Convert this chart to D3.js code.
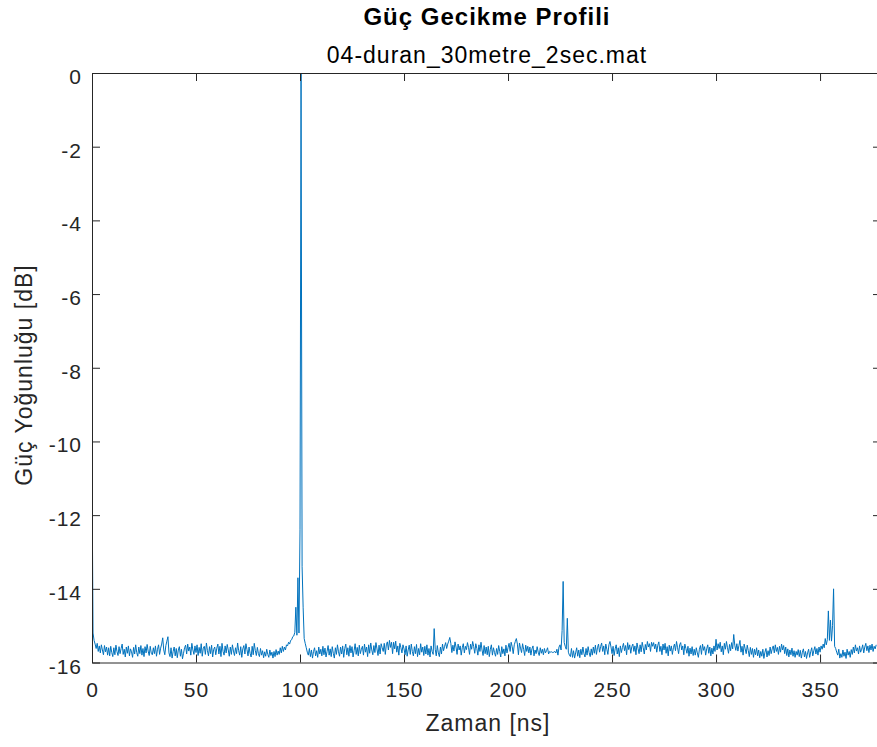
<!DOCTYPE html>
<html>
<head>
<meta charset="utf-8">
<script src="https://cdn.jsdelivr.net/npm/d3@7"></script>
<style>
  body { margin: 0; background: #fff; overflow: hidden; }
  svg { display: block; font-family: "Liberation Sans", Arial, Helvetica, sans-serif; }
  .axis path, .axis line { stroke: #262626; stroke-width: 1; }
  .axis text { fill: #262626; font-size: 21px; letter-spacing: 1px; }
</style>
</head>
<body>
<div id="chart"></div>
<script>
/* DATA */
// power delay profile, one sample every 0.5 ns starting at 0 ns (dB)
const sampleStep = 0.5;
const noiseFloor = [
  -10.70, -15.20, -15.40, -15.50, -15.62, -15.48, -15.70, -15.55, -15.74, -15.52, -15.66, -15.79, -15.54, -15.71, -15.58, -15.80, -15.60, -15.82, -15.56, -15.73,
  -15.84, -15.60, -15.79, -15.53, -15.70, -15.81, -15.57, -15.76, -15.62, -15.50, -15.78, -15.64, -15.85, -15.58, -15.75, -15.55, -15.82, -15.63, -15.71, -15.86,
  -15.59, -15.77, -15.52, -15.73, -15.83, -15.58, -15.76, -15.54, -15.80, -15.62, -15.84, -15.57, -15.74, -15.51, -15.69, -15.81, -15.56, -15.75, -15.79, -15.60,
  -15.76, -15.55, -15.83, -15.64, -15.52, -15.78, -15.61, -15.50, -15.44, -15.66, -15.79, -15.54, -15.42, -15.63, -15.74, -15.84, -15.60, -15.88, -15.70, -15.58,
  -15.82, -15.62, -15.87, -15.66, -15.57, -15.83, -15.64, -15.90, -15.75, -15.60, -15.53, -15.77, -15.50, -15.69, -15.58, -15.80, -15.48, -15.66, -15.78, -15.55,
  -15.73, -15.52, -15.81, -15.59, -15.75, -15.49, -15.83, -15.61, -15.56, -15.78, -15.47, -15.68, -15.82, -15.57, -15.76, -15.53, -15.85, -15.64, -15.58, -15.79,
  -15.61, -15.50, -15.77, -15.56, -15.84, -15.48, -15.70, -15.80, -15.55, -15.74, -15.51, -15.66, -15.83, -15.58, -15.78, -15.52, -15.69, -15.81, -15.60, -15.76,
  -15.47, -15.68, -15.80, -15.57, -15.86, -15.63, -15.54, -15.77, -15.49, -15.65, -15.82, -15.58, -15.75, -15.85, -15.56, -15.79, -15.48, -15.67, -15.81, -15.59,
  -15.76, -15.84, -15.62, -15.80, -15.68, -15.87, -15.71, -15.83, -15.64, -15.78, -15.86, -15.66, -15.81, -15.72, -15.88, -15.70, -15.84, -15.65, -15.80, -15.69,
  -15.78, -15.60, -15.74, -15.56, -15.70, -15.58, -15.66, -15.52, -15.55, -15.45, -15.50, -15.40, -15.38, -15.30, -15.28, -15.18, -15.22, -15.26, -15.30, -15.20,
  -15.20, -15.08, -15.22, -15.28, -15.35, -15.48, -15.60, -15.72, -15.80, -15.62, -15.84, -15.66, -15.88, -15.70, -15.60, -15.82, -15.68, -15.86, -15.58, -15.77,
  -15.64, -15.82, -15.56, -15.79, -15.61, -15.85, -15.70, -15.54, -15.80, -15.63, -15.84, -15.57, -15.75, -15.88, -15.60, -15.78, -15.52, -15.71, -15.83, -15.58,
  -15.77, -15.55, -15.86, -15.62, -15.50, -15.79, -15.60, -15.83, -15.54, -15.74, -15.57, -15.85, -15.68, -15.49, -15.78, -15.59, -15.82, -15.53, -15.76, -15.64,
  -15.56, -15.80, -15.50, -15.72, -15.58, -15.84, -15.52, -15.75, -15.47, -15.66, -15.79, -15.54, -15.73, -15.46, -15.63, -15.81, -15.53, -15.77, -15.49, -15.60,
  -15.70, -15.48, -15.78, -15.52, -15.44, -15.66, -15.40, -15.59, -15.50, -15.76, -15.45, -15.63, -15.42, -15.72, -15.55, -15.80, -15.48, -15.60, -15.74, -15.52,
  -15.63, -15.79, -15.55, -15.83, -15.66, -15.53, -15.78, -15.50, -15.70, -15.82, -15.57, -15.76, -15.51, -15.84, -15.62, -15.79, -15.49, -15.72, -15.58, -15.81,
  -15.56, -15.77, -15.52, -15.80, -15.62, -15.85, -15.55, -15.70, -15.78, -15.60, -15.64, -15.82, -15.54, -15.74, -15.84, -15.58, -15.77, -15.50, -15.68, -15.56,
  -15.46, -15.62, -15.50, -15.42, -15.60, -15.48, -15.73, -15.53, -15.69, -15.44, -15.58, -15.78, -15.50, -15.66, -15.55, -15.80, -15.60, -15.49, -15.74, -15.56,
  -15.65, -15.46, -15.59, -15.78, -15.50, -15.64, -15.43, -15.57, -15.75, -15.49, -15.62, -15.80, -15.52, -15.70, -15.45, -15.66, -15.81, -15.54, -15.76, -15.58,
  -15.79, -15.56, -15.84, -15.64, -15.52, -15.80, -15.60, -15.73, -15.83, -15.62, -15.78, -15.54, -15.70, -15.85, -15.57, -15.76, -15.63, -15.82, -15.53, -15.74,
  -15.60, -15.48, -15.70, -15.45, -15.57, -15.76, -15.52, -15.43, -15.66, -15.50, -15.79, -15.47, -15.61, -15.73, -15.49, -15.64, -15.81, -15.53, -15.70, -15.56,
  -15.74, -15.58, -15.80, -15.63, -15.55, -15.82, -15.66, -15.76, -15.57, -15.72, -15.81, -15.60, -15.75, -15.64, -15.79, -15.62, -15.74, -15.68, -15.60, -15.77,
  -15.70, -15.72, -15.71, -15.73, -15.72, -15.70, -15.74, -15.64, -15.80, -15.58, -15.52, -15.66, -15.50, -15.60, -15.46, -15.56, -15.64, -15.48, -15.72, -15.80,
  -15.84, -15.62, -15.86, -15.68, -15.88, -15.74, -15.60, -15.83, -15.66, -15.87, -15.64, -15.79, -15.58, -15.76, -15.85, -15.62, -15.80, -15.57, -15.73, -15.84,
  -15.63, -15.80, -15.58, -15.75, -15.53, -15.78, -15.60, -15.50, -15.72, -15.57, -15.47, -15.70, -15.55, -15.79, -15.50, -15.64, -15.78, -15.52, -15.68, -15.58,
  -15.76, -15.56, -15.81, -15.63, -15.52, -15.77, -15.60, -15.84, -15.55, -15.73, -15.59, -15.48, -15.68, -15.54, -15.79, -15.46, -15.65, -15.52, -15.75, -15.57,
  -15.50, -15.70, -15.55, -15.79, -15.47, -15.62, -15.76, -15.52, -15.71, -15.45, -15.60, -15.77, -15.51, -15.66, -15.43, -15.58, -15.49, -15.70, -15.42, -15.56,
  -15.46, -15.63, -15.50, -15.72, -15.53, -15.44, -15.70, -15.56, -15.79, -15.50, -15.66, -15.48, -15.75, -15.57, -15.82, -15.53, -15.69, -15.55, -15.78, -15.60,
  -15.50, -15.68, -15.43, -15.60, -15.76, -15.52, -15.46, -15.66, -15.55, -15.79, -15.50, -15.62, -15.75, -15.56, -15.83, -15.61, -15.77, -15.57, -15.81, -15.64,
  -15.80, -15.60, -15.74, -15.86, -15.64, -15.54, -15.78, -15.50, -15.67, -15.57, -15.80, -15.63, -15.52, -15.75, -15.58, -15.82, -15.61, -15.77, -15.55, -15.70,
  -15.52, -15.66, -15.49, -15.62, -15.45, -15.71, -15.55, -15.79, -15.48, -15.64, -15.43, -15.60, -15.75, -15.51, -15.68, -15.46, -15.63, -15.80, -15.53, -15.67,
  -15.49, -15.69, -15.54, -15.45, -15.72, -15.56, -15.80, -15.50, -15.63, -15.76, -15.53, -15.68, -15.84, -15.59, -15.78, -15.62, -15.86, -15.64, -15.79, -15.60,
  -15.82, -15.66, -15.87, -15.70, -15.83, -15.64, -15.89, -15.72, -15.62, -15.85, -15.68, -15.81, -15.58, -15.76, -15.63, -15.55, -15.74, -15.52, -15.70, -15.59,
  -15.78, -15.56, -15.72, -15.50, -15.66, -15.54, -15.76, -15.58, -15.81, -15.63, -15.85, -15.66, -15.79, -15.61, -15.83, -15.68, -15.86, -15.70, -15.80, -15.65,
  -15.84, -15.67, -15.88, -15.72, -15.63, -15.85, -15.70, -15.89, -15.74, -15.64, -15.86, -15.71, -15.60, -15.82, -15.68, -15.57, -15.77, -15.62, -15.80, -15.58,
  -15.72, -15.55, -15.64, -15.50, -15.60, -15.42, -15.52, -15.38, -15.45, -15.40, -15.48, -15.42, -15.50, -15.44, -15.56, -15.62, -15.72, -15.80, -15.64, -15.88,
  -15.76, -15.86, -15.66, -15.83, -15.72, -15.89, -15.64, -15.80, -15.70, -15.86, -15.65, -15.78, -15.58, -15.74, -15.52, -15.69, -15.60, -15.77, -15.55, -15.72,
  -15.64, -15.52, -15.74, -15.58, -15.48, -15.68, -15.55, -15.73, -15.53, -15.66, -15.50, -15.70, -15.56, -15.63, -15.52
];

// multipath components that stand out of the floor
const peakTimes  = [34, 36.5, 98, 99, 100, 100.5, 101, 101.5, 144, 164.5, 172, 204, 226, 226.5, 228.5, 249, 269, 300, 308.5, 311.5, 352.5, 354, 355, 356, 356.5];
const peakValues = [-15.33, -15.30, -14.5, -13.7, -12.4, 0, -13.4, -14.5, -15.45, -15.08, -15.32, -15.35, -15.13, -13.8, -14.8, -15.43, -15.45, -15.37, -15.24, -15.40, -15.35, -14.6, -14.85, -15.0, -14.0];

const xTicks = [0, 50, 100, 150, 200, 250, 300, 350];
const yTicks = [0, -2, -4, -6, -8, -10, -12, -14, -16];

const titleText = 'Güç Gecikme Profili';
const subtitleText = '04-duran_30metre_2sec.mat';
const xLabel = 'Zaman [ns]';
const yLabel = 'Güç Yoğunluğu [dB]';

/* LAYOUT */
const W = 877, H = 747;
// right border sits just past the window edge, as in the reference
const margin = { left: 92, top: 73, right: -4, bottom: 84.5 };
const width = W - margin.left - margin.right;
const height = H - margin.top - margin.bottom;

const profile = noiseFloor.map((v, i) => ({ t: i * sampleStep, v }));
peakTimes.forEach((t, i) => {
  profile[Math.round(t / sampleStep)].v = peakValues[i];
});

const svg = d3.select('#chart').append('svg').attr('width', W).attr('height', H);
const g = svg.append('g').attr('transform', `translate(${margin.left},${margin.top})`);

const x = d3.scaleLinear().domain([0, 379.3]).range([0, width]);
const y = d3.scaleLinear().domain([-16, 0]).range([height, 0]);

g.append('clipPath').attr('id', 'clip')
  .append('rect').attr('width', width).attr('height', height + 1).attr('y', -1);

// line
g.append('path')
  .datum(profile)
  .attr('clip-path', 'url(#clip)')
  .attr('fill', 'none')
  .attr('stroke', '#0072BD')
  .attr('stroke-width', 1)
  .attr('d', d3.line().x(d => x(d.t)).y(d => y(d.v)));

// axes, ticks point inward like matlab
const fmt = d => String(d);
const xAxis = g.append('g').attr('class', 'axis')
  .attr('transform', `translate(0,${height})`)
  .call(d3.axisBottom(x).tickValues(xTicks).tickFormat(fmt).tickSizeInner(-8).tickSizeOuter(0));
xAxis.selectAll('text').attr('y', 34.5).attr('dy', null);

const yAxis = g.append('g').attr('class', 'axis')
  .call(d3.axisLeft(y).tickValues(yTicks).tickFormat(fmt).tickSizeInner(-8).tickSizeOuter(0));
yAxis.selectAll('text').attr('x', -10).attr('dy', null).attr('y', 10.5);

g.append('g').attr('class', 'axis')
  .call(d3.axisTop(x).tickValues(xTicks).tickSizeInner(-8).tickSizeOuter(0).tickFormat(''));
g.append('g').attr('class', 'axis')
  .attr('transform', `translate(${width},0)`)
  .call(d3.axisRight(y).tickValues(yTicks).tickSizeInner(-8).tickSizeOuter(0).tickFormat(''));

// titles
svg.append('text')
  .attr('x', 487).attr('y', 25)
  .attr('text-anchor', 'middle')
  .attr('font-size', 24).attr('font-weight', 'bold')
  .attr('letter-spacing', 1).attr('fill', '#000')
  .text(titleText);
svg.append('text')
  .attr('x', 487).attr('y', 63)
  .attr('text-anchor', 'middle')
  .attr('font-size', 23)
  .attr('letter-spacing', 1).attr('fill', '#000')
  .text(subtitleText);

svg.append('text')
  .attr('x', 488).attr('y', 731)
  .attr('text-anchor', 'middle')
  .attr('font-size', 23)
  .attr('letter-spacing', 1).attr('fill', '#262626')
  .text(xLabel);
svg.append('text')
  .attr('transform', 'translate(31.5,375) rotate(-90)')
  .attr('text-anchor', 'middle')
  .attr('font-size', 23)
  .attr('letter-spacing', 1).attr('fill', '#262626')
  .text(yLabel);
</script>
</body>
</html>
